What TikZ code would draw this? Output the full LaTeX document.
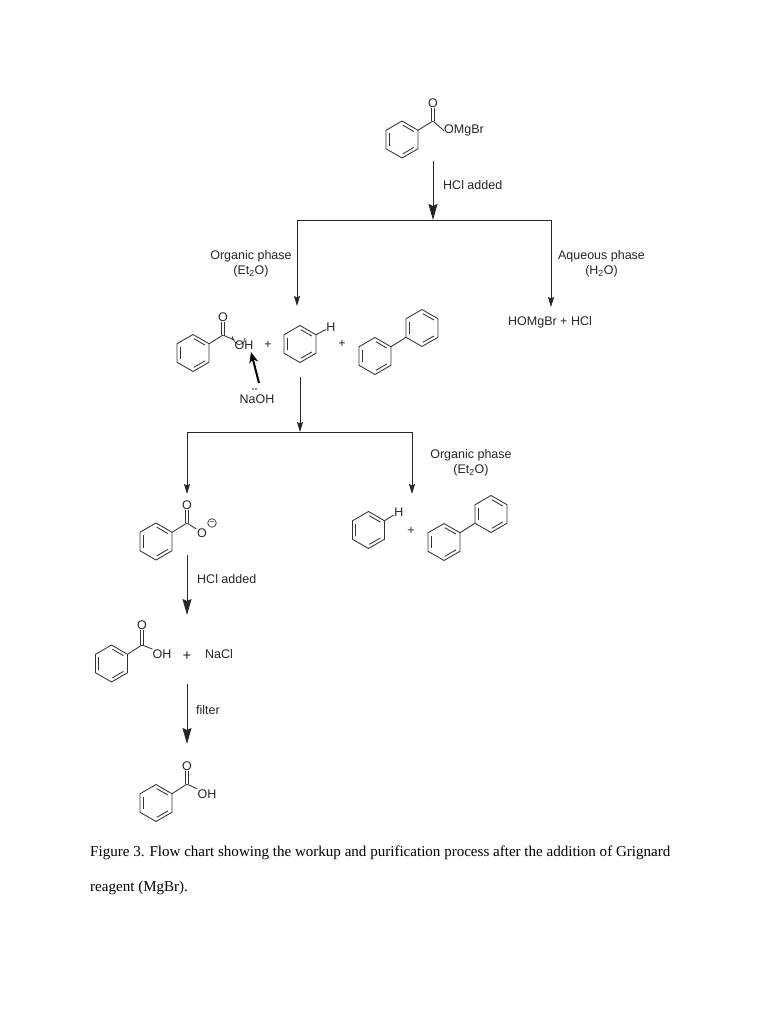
\documentclass[tikz,border=0pt]{standalone}
\usepackage{fontspec}
\setmainfont{Liberation Sans}
\newfontfamily\capfont{Liberation Serif}
\usetikzlibrary{arrows.meta}
\tikzset{
    bond/.style={draw=black!80, line width=0.85pt},
    dbond/.style={draw=black!80, line width=0.75pt, double=white, double distance=2pt},
    atom/.style={inner sep=0.6pt, yshift=-0.7pt, font=\fontsize{12.5}{14}\selectfont, text=black!85},
    lbl/.style={inner sep=0pt, yshift=-0.7pt, font=\fontsize{12.5}{15}\selectfont, text=black!85, align=center},
    captxt/.style={inner sep=0pt, anchor=west, yshift=-1pt, font=\capfont\fontsize{15.05}{17}\selectfont},
    flow/.style={draw=black!85, line width=0.95pt},
    small/.style={flow, -{Stealth[length=10pt,width=6pt,inset=1.5pt]}},
    big/.style={flow, -{Stealth[length=16pt,width=9pt,inset=2pt]}},
    pics/benzene/.style={code={
        \coordinate (-t) at (0,-18.5);
        \coordinate (-ur) at (16,-9.25);
        \coordinate (-lr) at (16,9.25);
        \coordinate (-b) at (0,18.5);
        \coordinate (-ll) at (-16,9.25);
        \coordinate (-ul) at (-16,-9.25);
        \draw[bond, line join=miter] (-t) -- (-ur) -- (-lr) -- (-b) -- (-ll) -- (-ul) -- cycle;
        \draw[bond, shorten <=1pt, shorten >=1pt] (0,-14.8) -- (12.8,-7.4);
        \draw[bond, shorten <=1pt, shorten >=1pt] (12.8,7.4) -- (0,14.8);
        \draw[bond, shorten <=1pt, shorten >=1pt] (-12.8,7.4) -- (-12.8,-7.4);
    }}
}
\begin{document}
\begin{tikzpicture}[x=1pt,y=-1pt]
    \useasboundingbox (0,0) rectangle (768,1024);
    % top acid salt
    \pic (ringA) at (402,139.5) {benzene};
    \coordinate (cA) at (433,121);
    \node[atom] (oA) at (433,102) {O};
    \node[atom,anchor=west,inner sep=0pt] (saltA) at (444,130) {OMgBr};
    \draw[bond] (ringA-ur) -- (cA) -- (saltA.west);
    \draw[dbond] (cA) -- (oA);
    \node[lbl,anchor=west] (hclA) at (443,184) {HCl added};
    % first split
    \coordinate (startA) at (433,161);
    \coordinate (splitA) at (433,220);
    \coordinate (cornerL) at (297,220);
    \coordinate (cornerR) at (551,220);
    \coordinate (endL) at (297,306);
    \coordinate (endR) at (551,307);
    \draw[big] (startA) -- (splitA);
    \draw[flow] (cornerL) -- (cornerR);
    \draw[small] (cornerL) -- (endL);
    \draw[small] (cornerR) -- (endR);
    \node[lbl] (orgA) at (251,263.5) {Organic phase\\(Et\textsubscript{2}O)};
    \node[lbl] (aqA) at (601.5,263.5) {Aqueous phase\\(H\textsubscript{2}O)};
    \node[lbl] (waste) at (550,322) {HOMgBr + HCl};
    % organic mixture
    \pic (ringB) at (193,353) {benzene};
    \coordinate (cB) at (223,335);
    \node[atom] (oB) at (223,316) {O};
    \node[atom,inner sep=0pt] (ohB) at (244,344) {OH};
    \draw[bond] (ringB-ur) -- (cB) -- (ohB.north west);
    \draw[dbond] (cB) -- (oB);
    \coordinate (curlS) at (232,336);
    \coordinate (curlE) at (245,338);
    \draw[bond, line width=0.7pt, -{Stealth[harpoon,length=3pt,width=3pt]}] (curlE) to[out=-100,in=-70,looseness=2] (curlS);
    \node[lbl] (plusB) at (268,344) {+};
    \pic (ringC) at (300,344) {benzene};
    \node[atom] (hC) at (331,326) {H};
    \draw[bond] (ringC-ur) -- (hC);
    \node[lbl] (plusC) at (342,343) {+};
    \pic (ringD) at (375,356) {benzene};
    \pic (ringE) at (422,328) {benzene};
    \draw[bond] (ringD-ur) -- (ringE-ll);
    \node[lbl] (naoh) at (257,398.5) {NaOH};
    \fill[black!85] (253,389) circle (0.8) (256,389) circle (0.8);
    \coordinate (boldS) at (259,383);
    \coordinate (boldE) at (251,352);
    \draw[line width=2pt, -{Stealth[length=11pt,width=9pt]}] (boldS) -- (boldE);
    % second split
    \coordinate (startB) at (300,377);
    \coordinate (splitB) at (300,432);
    \coordinate (cornerM) at (187,432);
    \coordinate (cornerN) at (412,432);
    \coordinate (endM) at (187,494);
    \coordinate (endN) at (412,494);
    \draw[small] (startB) -- (splitB);
    \draw[flow] (cornerM) -- (cornerN);
    \draw[small] (cornerM) -- (endM);
    \draw[small] (cornerN) -- (endN);
    \node[lbl] (orgB) at (471,462.5) {Organic phase\\(Et\textsubscript{2}O)};
    % right products
    \pic (ringF) at (368.5,530) {benzene};
    \node[atom] (hF) at (399,511) {H};
    \draw[bond] (ringF-ur) -- (hF);
    \node[lbl] (plusF) at (411,530) {+};
    \pic (ringG) at (444,542) {benzene};
    \pic (ringH) at (491,514) {benzene};
    \draw[bond] (ringG-ur) -- (ringH-ll);
    % carboxylate
    \pic (ringI) at (156,541.5) {benzene};
    \coordinate (cI) at (187,523);
    \node[atom] (oI) at (187,504) {O};
    \node[atom] (oJ) at (202,532) {O};
    \node[circle,draw=black!80,line width=0.7pt,inner sep=0pt,minimum size=8.5pt,font=\fontsize{8}{8}\selectfont] (chg) at (212,523) {−};
    \draw[bond] (ringI-ur) -- (cI) -- (oJ);
    \draw[dbond] (cI) -- (oI);
    \coordinate (startC) at (187,555);
    \coordinate (endC) at (187,615);
    \draw[big] (startC) -- (endC);
    \node[lbl,anchor=west] (hclB) at (197,578) {HCl added};
    % acid and salt
    \pic (ringK) at (111.5,663.5) {benzene};
    \coordinate (cK) at (142,645);
    \node[atom] (oK) at (142,624) {O};
    \node[atom,inner sep=0pt] (ohK) at (162,653) {OH};
    \draw[bond] (ringK-ur) -- (cK) -- (ohK.north west);
    \draw[dbond] (cK) -- (oK);
    \node[lbl,font=\fontsize{15}{15}\selectfont] (plusK) at (187,655) {+};
    \node[lbl] (nacl) at (219,653) {NaCl};
    \coordinate (startD) at (187,684);
    \coordinate (endD) at (187,744);
    \draw[big] (startD) -- (endD);
    \node[lbl,anchor=west] (filt) at (196,709) {filter};
    % final acid
    \pic (ringL) at (156,803) {benzene};
    \coordinate (cL) at (187,784);
    \node[atom] (oL) at (187,765) {O};
    \node[atom,inner sep=0pt] (ohL) at (207,793) {OH};
    \draw[bond] (ringL-ur) -- (cL) -- (ohL.north west);
    \draw[dbond] (cL) -- (oL);
    % caption
    \node[captxt] (capA) at (90,852) {Figure 3. Flow chart showing the workup and purification process after the addition of Grignard};
    \node[captxt] (capB) at (90,887) {reagent (MgBr).};
\end{tikzpicture}
\end{document}
